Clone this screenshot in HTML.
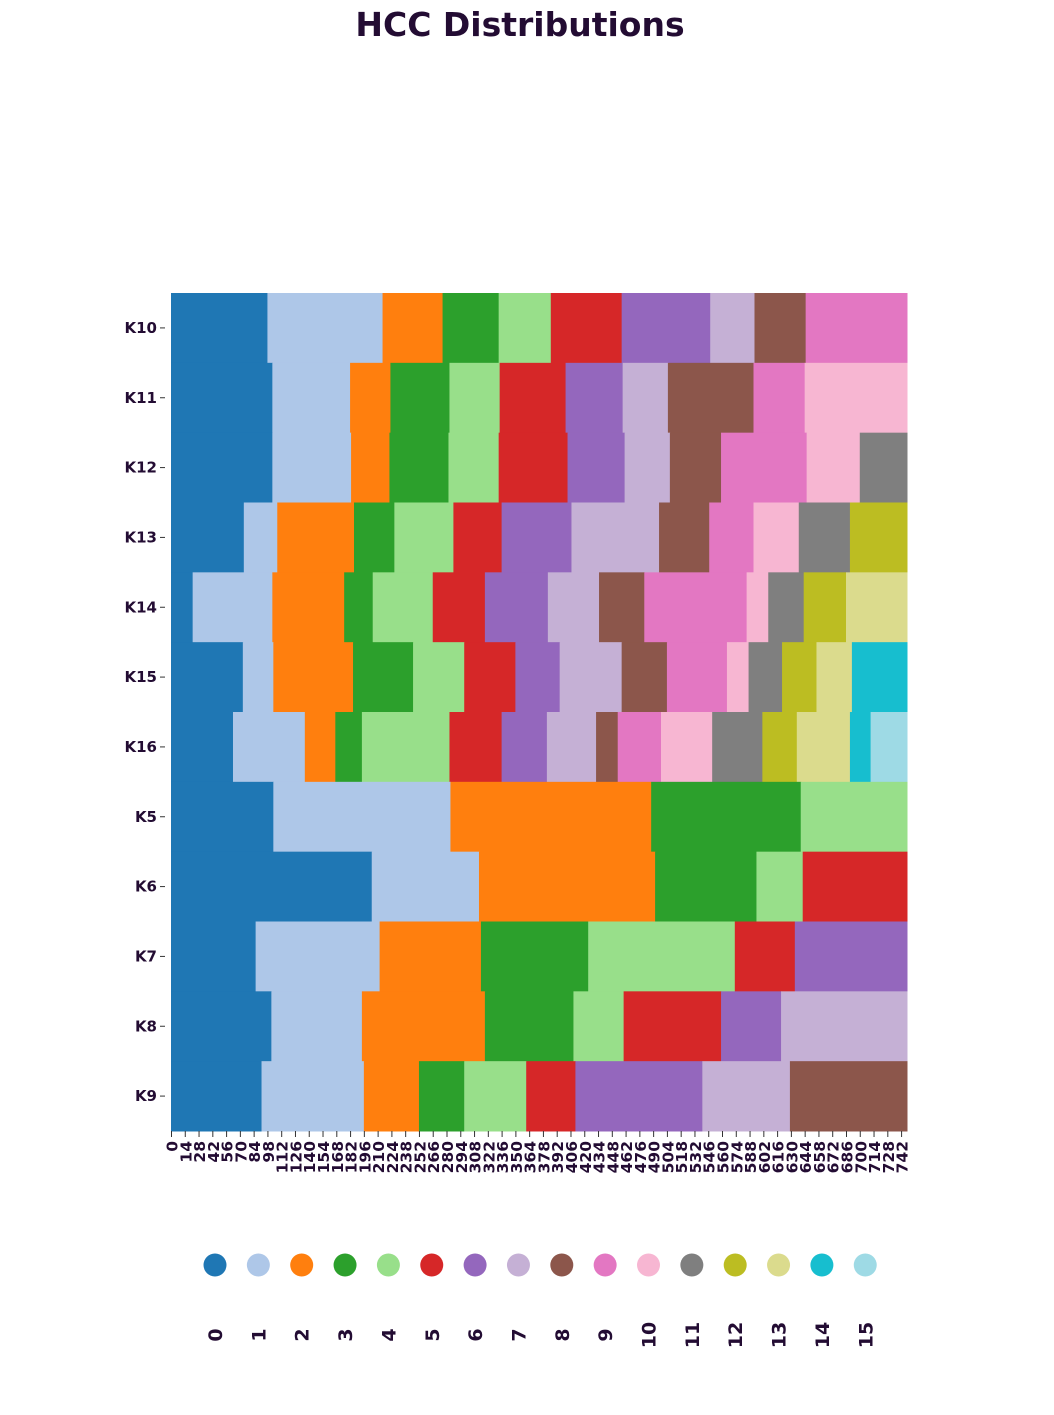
<!DOCTYPE html>
<html><head><meta charset="utf-8"><style>
body{margin:0;background:#fff;}
svg{display:block;font-family:"DejaVu Sans","Liberation Sans",sans-serif;}
</style></head><body>
<svg id="c" width="1054" height="1415"></svg>
<script>
const rowLabels=["K10","K11","K12","K13","K14","K15","K16","K5","K6","K7","K8","K9"];
const rowBounds=[
[98,215,276,333,386,458,548,593,645],
[103,182,223,283,334,401,459,505,592,644],
[103,183,222,282,333,403,461,507,559,646,700],
[74,108,186,227,287,336,407,496,547,592,638,690],
[22,103,176,205,266,319,383,435,481,585,607,643,686],
[73,104,185,246,298,350,395,458,504,565,587,621,656,692],
[63,136,167,194,283,336,382,432,454,498,550,601,636,690,711],
[104,284,488,640],
[204,313,492,595,642],
[86,212,315,424,573,634],
[102,194,319,409,460,559,620],
[92,196,252,298,361,411,540,629]];
const nSamples=748;
const legendLabels=["0","1","2","3","4","5","6","7","8","9","10","11","12","13","14","15"];
const colors=["#1f77b4","#aec7e8","#ff7f0e","#2ca02c","#98df8a","#d62728","#9467bd","#c5b0d5","#8c564b","#e377c2","#f7b6d2","#7f7f7f","#bcbd22","#dbdb8d","#17becf","#9edae5"];
const NS="http://www.w3.org/2000/svg";
const svg=document.getElementById('c');
function mk(t,a,p){const e=document.createElementNS(NS,t);for(const k in a)e.setAttribute(k,a[k]);(p||svg).appendChild(e);return e;}
const X0=171,X1=907,Y0=293,Y1=1131;
const xs=v=>X0+v*(X1-X0)/nSamples;
const rh=(Y1-Y0)/rowLabels.length;
const ys=i=>Y0+i*rh;
const txtCol="#230c33";
let t=mk('text',{x:520,y:36,'text-anchor':'middle','font-size':33,'font-weight':'bold',fill:txtCol});
t.textContent="HCC Distributions";


rowLabels.forEach((lab,i)=>{
  const b=[0].concat(rowBounds[i]).concat([nSamples]);
  for(let k=0;k<b.length-1;k++){
    const r=mk('rect',{x:xs(b[k]),y:ys(i),width:xs(b[k+1])-xs(b[k])+0.5,height:rh+0.5,fill:colors[k]});
    
    
  }
  const tl=mk('text',{x:157,y:ys(i)+rh/2+5,'text-anchor':'end','font-size':15,'font-weight':'bold',fill:txtCol});
  tl.textContent=lab;
  
  
  mk('line',{x1:160,x2:165,y1:ys(i)+rh/2,y2:ys(i)+rh/2,stroke:'#333'});
});
for(let v=0;v<nSamples;v+=14){
  const x=xs(v+0.5);
  mk('line',{x1:x,x2:x,y1:Y1,y2:Y1+6,stroke:'#333'});
  const tk=mk('text',{x:0,y:0,transform:`translate(${x+6},${Y1+10}) rotate(-90)`,'text-anchor':'end','font-size':15.5,'font-weight':'bold',fill:txtCol});
  tk.textContent=v;
  
  
}
legendLabels.forEach((l,i)=>{
  const x=215+i*43.35;
  const c=mk('circle',{cx:x,cy:1265,r:11.5,fill:colors[i]});
  
  
  const lt=mk('text',{x:0,y:0,transform:`translate(${x+7},1335) rotate(-90)`,'text-anchor':'middle','font-size':19,'font-weight':'bold',fill:txtCol});
  lt.textContent=l;
  
  
});
</script>
</body></html>
